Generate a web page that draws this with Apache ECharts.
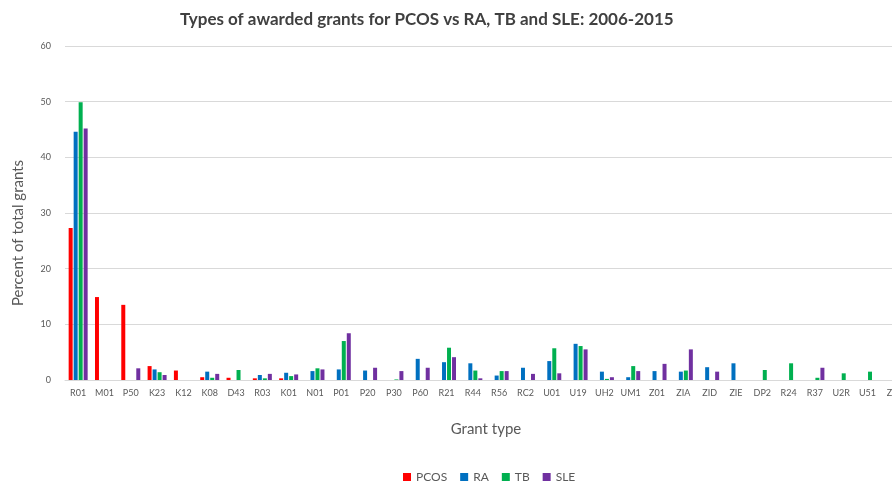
<!DOCTYPE html>
<html>
<head>
<meta charset="utf-8">
<script src="https://cdn.jsdelivr.net/npm/echarts@6/dist/echarts.min.js"></script>
<style>
  html, body { margin: 0; padding: 0; background: #fff; overflow: hidden; }
  /* the plot runs past the right edge, as in the original */
  #chart { width: 907px; height: 484px; }
</style>
</head>
<body>
<div id="chart"></div>
<script>
var grantTypes = ['R01', 'M01', 'P50', 'K23', 'K12', 'K08', 'D43', 'R03', 'K01', 'N01',
  'P01', 'P20', 'P30', 'P60', 'R21', 'R44', 'R56', 'RC2', 'U01', 'U19',
  'UH2', 'UM1', 'Z01', 'ZIA', 'ZID', 'ZIE', 'DP2', 'R24', 'R37', 'U2R', 'U51', 'ZIC'];

var pcos = [27.3, 14.9, 13.5, 2.5, 1.7, 0.5, 0.4, 0.3, 0.3, 0,
  0, 0, 0, 0, 0, 0, 0, 0, 0, 0,
  0, 0, 0, 0, 0, 0, 0, 0, 0, 0, 0, 0];
var ra = [44.6, 0, 0, 1.9, 0, 1.5, 0, 0.9, 1.3, 1.6,
  1.9, 1.7, 0, 3.8, 3.2, 3.0, 0.8, 2.2, 3.4, 6.5,
  1.5, 0.5, 1.6, 1.5, 2.3, 3.0, 0, 0, 0, 0, 0, 0];
var tb = [49.9, 0, 0, 1.4, 0, 0.4, 1.8, 0.3, 0.7, 2.1,
  7.0, 0, 0.1, 0, 5.8, 1.7, 1.6, 0, 5.7, 6.1,
  0.2, 2.5, 0, 1.7, 0, 0, 1.8, 3.0, 0.4, 1.2, 1.5, 0];
var sle = [45.2, 0, 2.1, 0.9, 0, 1.1, 0, 1.1, 1.0, 1.9,
  8.4, 2.2, 1.6, 2.2, 4.1, 0.3, 1.6, 1.1, 1.2, 5.5,
  0.5, 1.6, 2.9, 5.5, 1.5, 0, 0, 0, 2.2, 0, 0, 0];

var chart = echarts.init(document.getElementById('chart'));

function bar(name, data, color) {
  return {
    name: name,
    type: 'bar',
    data: data,
    barWidth: 4,
    barGap: '25%',
    itemStyle: { color: color }
  };
}

var option = {
  textStyle: { fontFamily: 'Lato' },
  title: {
    text: 'Types of awarded grants for PCOS vs RA, TB and SLE: 2006-2015',
    left: 175,
    top: 6,
    textStyle: { fontSize: 17, fontWeight: 'bold', color: '#404040', fontFamily: 'Lato' }
  },
  legend: {
    top: 466,
    left: 398,
    itemWidth: 8,
    itemHeight: 8,
    itemGap: 13,
    icon: 'rect',
    textStyle: { fontSize: 12, color: '#595959' },
    data: ['PCOS', 'RA', 'TB', 'SLE']
  },
  // y axis title placed by hand so it sits where the original has it
  graphic: [{
    type: 'text',
    x: 18,
    y: 233,
    rotation: Math.PI / 2,
    style: {
      text: 'Percent of total grants',
      fontSize: 15,
      fontFamily: 'Lato',
      fill: '#595959',
      align: 'center',
      verticalAlign: 'middle'
    }
  }],
  grid: { left: 65, right: 0, top: 46, bottom: 104 },
  xAxis: {
    type: 'category',
    data: grantTypes,
    name: 'Grant type',
    nameLocation: 'middle',
    nameGap: 42,
    nameTextStyle: { fontSize: 15, color: '#595959' },
    axisLine: { lineStyle: { color: '#d9d9d9' } },
    axisTick: { show: false },
    axisLabel: { fontSize: 9, color: '#595959', margin: 9, interval: 0 }
  },
  yAxis: {
    type: 'value',
    min: 0,
    max: 60,
    interval: 10,
    axisLine: { show: false },
    axisTick: { show: false },
    axisLabel: { fontSize: 9, color: '#595959', margin: 14 },
    splitLine: { lineStyle: { color: '#d9d9d9' } }
  },
  series: [
    bar('PCOS', pcos, '#ff0000'),
    bar('RA', ra, '#0070c0'),
    bar('TB', tb, '#00b050'),
    bar('SLE', sle, '#7030a0')
  ]
};

chart.setOption(option);
</script>
</body>
</html>
